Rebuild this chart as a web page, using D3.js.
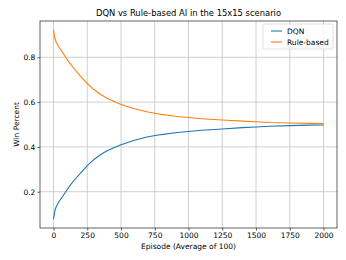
<!DOCTYPE html>
<html>
<head>
<meta charset="utf-8">
<script src="https://cdn.jsdelivr.net/npm/d3@7"></script>
<style>
  body { margin: 0; background: #fff; }
  svg { display: block; font-family: "DejaVu Sans", sans-serif; }
</style>
</head>
<body>
<svg id="chart" width="346" height="260"></svg>
<script>
// values
const episodes = [0, 10, 20, 40, 60, 90, 120, 150, 200, 250, 300, 350, 400, 500, 600, 700, 800, 900, 1000, 1100, 1250, 1400, 1500, 1600, 1750, 1900, 2000];
const dqnWin = [0.078, 0.115, 0.133, 0.155, 0.172, 0.200, 0.226, 0.249, 0.283, 0.316, 0.344, 0.366, 0.384, 0.410, 0.430, 0.445, 0.455, 0.463, 0.469, 0.474, 0.480, 0.486, 0.489, 0.492, 0.495, 0.497, 0.498];
const ruleWin = [0.922, 0.885, 0.867, 0.845, 0.828, 0.800, 0.774, 0.751, 0.716, 0.683, 0.656, 0.634, 0.616, 0.589, 0.570, 0.556, 0.545, 0.537, 0.531, 0.526, 0.520, 0.515, 0.512, 0.509, 0.507, 0.505, 0.504];
const xTicks = [0, 250, 500, 750, 1000, 1250, 1500, 1750, 2000];
const yTicks = [0.2, 0.4, 0.6, 0.8];
const seriesNames = ["DQN", "Rule-based"];
const colors = ["#1f77b4", "#ff7f0e"];

const svg = d3.select("#chart");
const margin = { top: 21, right: 9, bottom: 32, left: 40 };
const width = 346, height = 260;

const x = d3.scaleLinear().domain([-100, 2100]).range([margin.left, width - margin.right]);
const y = d3.scaleLinear().domain([0.038, 0.962]).range([height - margin.bottom, margin.top]);

// grid
svg.append("g").selectAll("line").data(xTicks).enter().append("line")
    .attr("x1", d => x(d)).attr("x2", d => x(d))
    .attr("y1", margin.top).attr("y2", height - margin.bottom)
    .attr("stroke", "#c4c4c4").attr("stroke-width", 0.8);
svg.append("g").selectAll("line").data(yTicks).enter().append("line")
    .attr("y1", d => y(d)).attr("y2", d => y(d))
    .attr("x1", margin.left).attr("x2", width - margin.right)
    .attr("stroke", "#c4c4c4").attr("stroke-width", 0.8);

// lines
const series = [dqnWin, ruleWin];
const line = d3.line().x((d, i) => x(episodes[i])).y(d => y(d));
series.forEach((vals, k) => {
    svg.append("path")
        .datum(vals)
        .attr("fill", "none")
        .attr("stroke", colors[k])
        .attr("stroke-width", 1.1)
        .attr("d", line);
});

// axes
const xAxis = svg.append("g").attr("transform", `translate(0,${height - margin.bottom})`)
    .call(d3.axisBottom(x).tickValues(xTicks).tickSize(2.6).tickPadding(2).tickFormat(d3.format("d")));
const yAxis = svg.append("g").attr("transform", `translate(${margin.left},0)`)
    .call(d3.axisLeft(y).tickValues(yTicks).tickSize(2.6).tickPadding(2).tickFormat(d3.format(".1f")));
[xAxis, yAxis].forEach(g => {
    g.select(".domain").remove();
    g.selectAll("line").attr("stroke", "#000").attr("stroke-width", 0.6);
    g.selectAll("text").attr("fill", "#000").style("font-size", "7.5px").style("font-family", "DejaVu Sans");
});

// frame
svg.append("rect")
    .attr("x", margin.left).attr("y", margin.top)
    .attr("width", width - margin.left - margin.right)
    .attr("height", height - margin.bottom - margin.top)
    .attr("fill", "none").attr("stroke", "#222").attr("stroke-width", 0.7);

// title and labels
svg.append("text").attr("x", (margin.left + width - margin.right) / 2).attr("y", 16)
    .attr("text-anchor", "middle").style("font-size", "8.4px").text("DQN vs Rule-based AI in the 15x15 scenario");
svg.append("text").attr("x", (margin.left + width - margin.right) / 2).attr("y", 249)
    .attr("text-anchor", "middle").style("font-size", "7.5px").text("Episode (Average of 100)");
svg.append("text").attr("transform", `translate(19,${(margin.top + height - margin.bottom) / 2}) rotate(-90)`)
    .attr("text-anchor", "middle").style("font-size", "7.5px").text("Win Percent");

// legend
const lg = svg.append("g").attr("transform", "translate(263,24)");
lg.append("rect").attr("width", 70).attr("height", 25).attr("rx", 1.5)
    .attr("fill", "#fff").attr("fill-opacity", 0.8).attr("stroke", "#ccc").attr("stroke-width", 0.6);
seriesNames.forEach((name, i) => {
    const yy = 7 + i * 11;
    lg.append("line").attr("x1", 8).attr("x2", 19).attr("y1", yy).attr("y2", yy)
        .attr("stroke", colors[i]).attr("stroke-width", 1.1);
    lg.append("text").attr("x", 24).attr("y", yy + 2.7).style("font-size", "7.5px").text(name);
});
</script>
</body>
</html>
